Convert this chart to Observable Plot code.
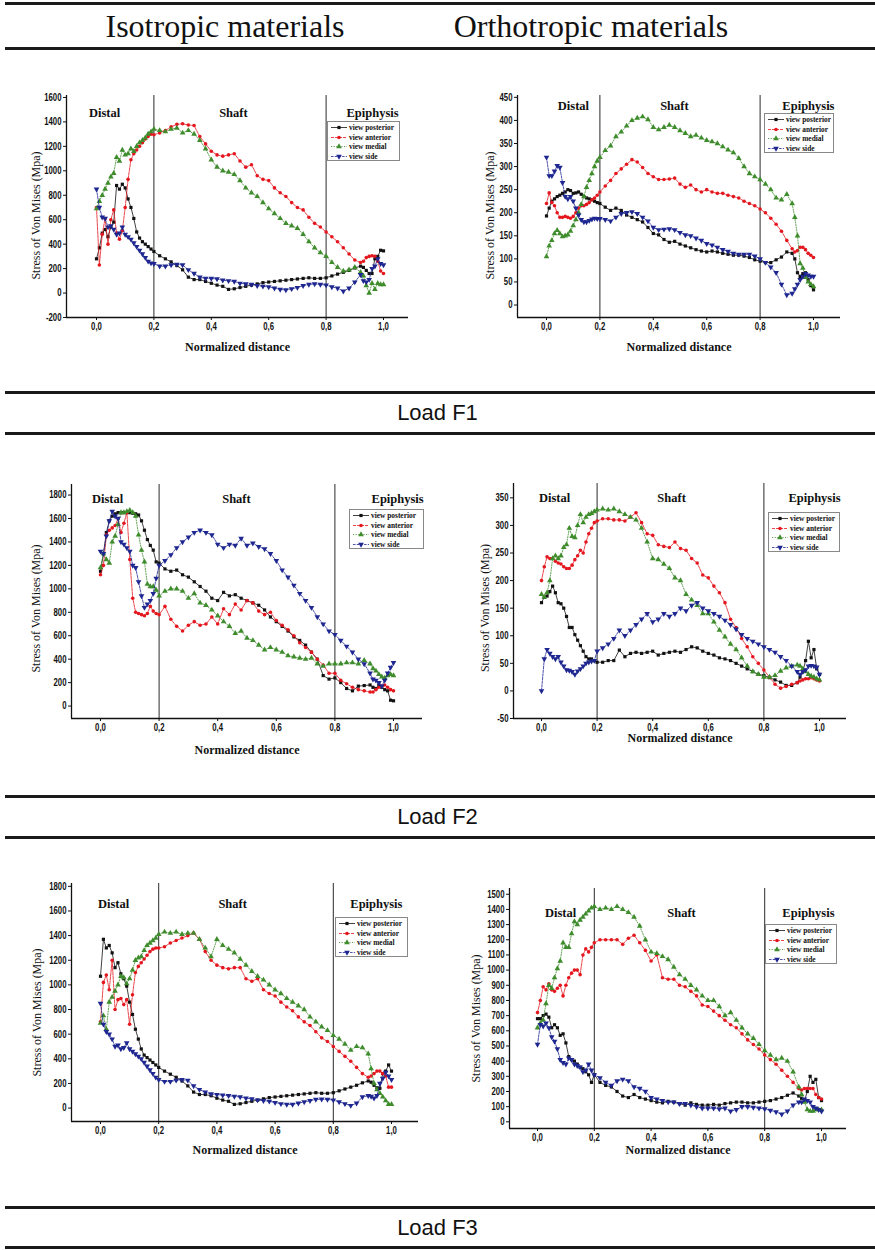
<!DOCTYPE html>
<html><head><meta charset="utf-8">
<script src="https://cdn.jsdelivr.net/npm/d3@7"></script>
<script src="https://cdn.jsdelivr.net/npm/@observablehq/plot@0.6"></script>
<style>
body{margin:0;background:#fff;}
#page{position:relative;width:875px;height:1250px;overflow:hidden;background:#fff;}
.hr{position:absolute;left:5px;width:870px;height:3px;background:#1a1a1a;}
.title{position:absolute;top:9px;width:320px;height:34px;line-height:34px;text-align:center;font-family:"Liberation Serif","Times New Roman",serif;font-size:32px;color:#111;}
.load{position:absolute;left:0;width:875px;height:24px;line-height:24px;text-align:center;font-family:"Liberation Sans",Arial,sans-serif;font-size:22px;color:#111;}
.panel{position:absolute;}
.legend{position:absolute;border:1px solid #888;box-sizing:border-box;background:#fff;padding:1px 0 0 2px;}
.legend .row{display:flex;align-items:center;height:9.5px;}
.legend span{font-family:"Liberation Serif","Times New Roman",serif;font-weight:bold;font-size:7.4px;white-space:nowrap;margin-left:1px;color:#111;}
</style>
</head><body>
<div id="page">
  <div class="hr" style="top:2px"></div>
  <div class="title" style="left:65px">Isotropic materials</div>
  <div class="title" style="left:431px">Orthotropic materials</div>
  <div class="hr" style="top:47px"></div>
  <div class="hr" style="top:391px"></div>
  <div class="load" style="top:401px">Load F1</div>
  <div class="hr" style="top:432px"></div>
  <div class="hr" style="top:795px"></div>
  <div class="load" style="top:805px">Load F2</div>
  <div class="hr" style="top:836px"></div>
  <div class="hr" style="top:1206px"></div>
  <div class="load" style="top:1216px">Load F3</div>
  <div class="hr" style="top:1246px"></div>
</div>
<script>
// ---------- data ----------
const X = [0,0.01,0.02,0.03,0.04,0.05,0.06,0.07,0.08,0.09,0.10,0.11,0.12,0.13,0.14,0.15,0.16,0.17,0.18,0.19,0.20,
  0.22,0.24,0.26,0.28,0.30,0.32,0.34,0.36,0.38,0.40,0.42,0.44,0.46,0.48,0.50,0.52,0.54,0.56,0.58,0.60,
  0.62,0.64,0.66,0.68,0.70,0.72,0.74,0.76,0.78,0.80,0.82,0.84,0.86,0.88,0.90,
  0.92,0.93,0.94,0.95,0.96,0.97,0.98,0.99,1.00];

const SERIES = ["view posterior","view anterior","view medial","view side"];
const X_TICKS = [0,0.2,0.4,0.6,0.8,1.0];
const REGION_NAMES = ["Distal","Shaft","Epiphysis"];
const REGION_BOUNDS = [0.2,0.8];
const Y_TICKS_F1_ISO = [-200,0,200,400,600,800,1000,1200,1400,1600];
const Y_TICKS_F1_ORTHO = [0,50,100,150,200,250,300,350,400,450];
const Y_TICKS_F2_ISO = [0,200,400,600,800,1000,1200,1400,1600,1800];
const Y_TICKS_F2_ORTHO = [-50,0,50,100,150,200,250,300,350];
const Y_TICKS_F3_ISO = [0,200,400,600,800,1000,1200,1400,1600,1800];
const Y_TICKS_F3_ORTHO = [0,100,200,300,400,500,600,700,800,900,1000,1100,1200,1300,1400,1500];

// Load F1 - isotropic
const F1_iso_posterior = [280,370,490,520,460,540,580,880,850,890,860,770,700,610,500,450,420,400,380,360,340,
  305,280,255,225,190,130,110,110,95,80,65,55,30,35,45,55,65,75,85,90,95,100,105,110,115,120,125,120,120,125,140,155,170,185,205,
  220,210,185,160,160,280,300,350,345];
const F1_iso_anterior = [700,230,480,610,400,600,680,490,440,510,700,930,1090,1140,1170,1200,1230,1260,1280,1300,1295,
  1310,1330,1360,1380,1385,1375,1370,1280,1220,1160,1130,1120,1130,1140,1080,1030,1050,960,930,920,860,820,790,740,700,680,620,570,540,500,460,420,370,320,270,
  250,260,290,300,305,300,260,180,160];
const F1_iso_medial = [690,750,800,850,900,950,980,1110,1080,1170,1130,1140,1180,1160,1200,1230,1250,1270,1300,1320,1340,
  1330,1320,1340,1350,1310,1330,1300,1250,1180,1090,1030,1000,990,970,920,860,820,790,740,690,650,610,570,550,530,480,420,370,330,300,250,210,180,190,210,
  170,140,60,0,80,30,80,70,70];
const F1_iso_side = [850,700,620,610,540,550,520,480,490,540,480,460,440,410,380,350,320,290,260,245,240,
  220,220,230,235,230,190,160,130,120,120,115,105,100,95,80,75,70,60,55,50,40,30,25,35,45,60,70,75,70,65,50,40,15,40,90,
  150,100,90,110,200,220,280,240,230];

// Load F1 - orthotropic
const F1_ortho_posterior = [193,210,225,230,235,238,242,245,250,248,242,243,245,240,235,232,230,228,225,222,220,
  212,205,210,205,195,190,185,180,168,155,152,142,136,138,132,128,124,120,117,115,117,115,112,110,108,108,106,103,98,95,92,92,98,104,115,
  112,100,70,62,68,70,55,42,33];
const F1_ortho_anterior = [220,243,222,215,200,190,190,192,190,188,192,200,210,215,215,218,222,228,232,238,245,
  258,270,285,295,305,315,310,298,285,278,272,272,273,275,262,255,260,250,245,250,245,242,242,238,235,232,225,220,215,208,200,188,175,160,140,
  122,115,118,125,125,120,112,108,103];
const F1_ortho_medial = [105,128,140,155,162,155,148,150,152,160,172,185,200,218,235,255,270,285,300,312,320,
  335,345,365,375,388,400,405,408,402,385,380,385,390,385,378,372,365,368,362,357,354,350,343,336,330,318,300,285,278,272,262,250,232,228,240,
  220,190,150,90,80,60,50,45,40];
const F1_ortho_side = [320,280,280,290,302,298,265,235,230,235,225,210,195,185,180,180,183,186,188,187,187,
  185,182,190,198,200,202,198,190,182,168,163,164,165,163,157,152,150,145,140,133,130,125,120,116,112,110,110,110,106,100,92,82,70,45,22,
  25,35,45,55,62,68,65,62,62];

// Load F2 - isotropic
const F2_iso_posterior = [1150,1300,1480,1580,1620,1640,1650,1650,1650,1650,1650,1645,1640,1630,1580,1500,1420,1370,1330,1230,1220,
  1170,1150,1160,1120,1100,1060,1020,980,920,900,970,940,950,920,900,880,860,820,760,720,680,640,590,560,520,460,400,260,230,240,200,150,130,170,175,
  180,160,150,180,160,140,130,50,45];
const F2_iso_anterior = [1120,1200,1460,1500,1520,1540,1600,1480,1560,1650,1250,920,800,790,780,770,790,850,810,790,780,
  850,740,680,640,690,720,690,700,760,700,830,780,870,820,900,880,810,780,800,730,690,650,600,540,500,460,400,350,280,280,220,190,160,140,130,
  120,120,140,160,170,180,160,140,130];
const F2_iso_medial = [1180,1300,1250,1220,1400,1450,1550,1650,1650,1660,1670,1650,1620,1460,1330,1230,1040,1020,1020,990,940,
  980,1000,1000,980,920,960,880,860,820,770,720,680,620,640,580,560,520,480,500,480,460,430,420,410,400,410,360,340,360,360,360,370,370,360,390,
  360,320,300,270,250,240,260,270,260];
const F2_iso_side = [1320,1300,1450,1580,1660,1620,1600,1400,1380,1350,1320,1200,1180,1060,940,840,870,900,960,1090,1200,
  1240,1290,1350,1400,1440,1480,1500,1480,1460,1380,1350,1380,1370,1430,1370,1390,1360,1340,1300,1240,1160,1100,1030,960,900,840,760,700,640,610,560,510,460,400,360,
  280,230,220,200,170,220,280,330,370];

// Load F2 - orthotropic
const F2_ortho_posterior = [160,170,172,180,190,178,160,158,150,135,115,115,102,92,82,72,62,58,58,55,52,
  52,55,55,74,62,68,70,68,70,72,65,68,70,72,70,75,80,78,72,68,65,60,58,55,50,45,40,35,30,28,24,20,16,10,10,
  15,25,35,55,90,60,75,40,30];
const F2_ortho_anterior = [200,225,243,240,240,235,232,230,225,222,222,228,238,245,255,250,270,285,295,305,308,
  312,312,310,310,308,315,323,305,285,282,265,262,260,270,258,255,240,232,210,205,190,178,160,130,115,95,80,62,50,38,25,12,5,8,12,
  15,18,20,22,22,24,22,20,18];
const F2_ortho_medial = [175,170,178,200,240,245,240,245,260,265,295,280,278,300,320,305,315,320,322,325,328,
  330,328,330,325,320,315,310,295,270,240,238,230,222,205,200,175,165,155,140,140,125,110,98,85,75,60,45,35,30,25,25,28,36,42,45,
  47,45,40,35,30,27,25,22,20];
const F2_ortho_side = [0,58,75,68,62,58,62,52,45,38,37,35,30,36,40,45,50,52,54,55,72,
  78,85,95,110,100,110,120,130,140,125,130,140,135,140,150,145,155,160,150,145,140,135,128,120,112,102,95,90,85,80,75,70,62,55,45,
  35,30,35,38,45,46,45,43,30];

// Load F3 - isotropic
const F3_iso_posterior = [1070,1370,1300,1320,1260,1140,1180,1090,1050,990,860,760,640,560,480,430,410,390,370,350,330,
  300,275,250,220,180,130,110,110,100,80,65,55,30,35,45,55,65,75,85,90,95,100,105,110,115,120,125,120,120,125,140,155,170,185,205,
  220,210,185,165,160,280,300,350,300];
const F3_iso_anterior = [700,1020,1080,960,1200,800,880,890,840,880,680,920,1100,1150,1180,1210,1240,1270,1290,1300,1300,
  1310,1340,1360,1380,1400,1420,1370,1270,1200,1160,1140,1130,1140,1140,1050,1030,1050,960,930,910,860,820,790,740,700,670,620,570,540,500,460,420,380,330,280,
  250,260,280,300,300,280,260,170,170];
const F3_iso_medial = [690,750,640,860,900,950,1000,1070,1060,1010,1050,1120,1200,1220,1230,1280,1320,1340,1360,1380,1410,
  1430,1420,1430,1410,1420,1420,1370,1300,1230,1370,1320,1290,1260,1210,1160,1110,1070,1040,1000,960,930,890,860,830,800,740,700,660,630,590,560,520,470,500,490,
  440,320,200,150,120,90,60,30,30];
const F3_iso_side = [850,680,620,600,560,500,510,480,490,530,480,460,440,420,400,370,340,310,280,250,230,
  215,215,225,230,225,180,150,130,115,110,105,100,95,90,80,75,65,60,55,45,35,30,30,40,50,60,70,72,70,65,50,35,20,40,90,
  100,95,80,100,200,240,290,260,230];

// Load F3 - orthotropic
const F3_ortho_posterior = [680,680,700,710,690,620,640,620,570,580,520,430,410,400,380,360,350,330,310,260,310,
  260,240,230,200,170,160,180,160,150,140,130,125,135,130,120,110,125,115,110,110,115,110,120,125,130,130,125,125,130,135,140,150,160,175,190,
  170,155,140,200,300,260,280,160,140];
const F3_ortho_anterior = [720,800,890,870,910,870,860,880,900,830,900,950,980,1000,1000,970,1100,1140,1120,1150,1180,
  1200,1200,1200,1200,1170,1210,1230,1180,1130,1060,1100,950,940,940,900,890,860,830,770,760,730,700,670,640,620,580,540,510,480,440,410,380,340,300,260,
  220,210,220,220,220,220,180,160,150];
const F3_ortho_medial = [620,650,670,780,900,880,950,1010,1060,1180,1150,1150,1240,1320,1300,1330,1350,1370,1390,1410,1420,
  1400,1410,1400,1420,1400,1380,1350,1290,1200,1120,1110,1090,1070,1020,970,940,900,870,830,800,800,760,700,720,670,620,580,550,510,470,440,410,420,400,330,
  230,180,130,80,70,70,80,80,80];
const F3_ortho_side = [510,640,630,650,620,560,530,480,410,390,380,420,410,380,370,360,330,340,380,340,310,
  290,260,240,270,280,270,230,220,200,160,150,140,130,130,120,120,110,100,90,90,90,85,90,70,80,100,100,95,90,85,75,65,50,70,110,
  130,130,150,140,130,100,90,80,70];

// ---------- styling ----------
const COLORS = ["#111111","#e4161e","#3e8c2c","#1e2690"];
const DASH = [null, "3,1", "1.2,1.4", "2.5,1.2"];
const SERIF = "'Liberation Serif','Times New Roman',serif";
const TICKFONT = "'Liberation Sans',Arial,sans-serif";
const triangleDown = {draw(ctx, size){ const y = Math.sqrt(size/(Math.sqrt(3)*3)); const s3 = Math.sqrt(3);
  ctx.moveTo(0, y*2); ctx.lineTo(-s3*y, -y); ctx.lineTo(s3*y, -y); ctx.closePath(); }};
const SYMBOLS = ["square","circle","triangle",triangleDown];
const D3SYM = [d3.symbolSquare, d3.symbolCircle, d3.symbolTriangle, triangleDown];
const RADII = [1.8, 1.8, 2.1, 2.1];

// ---------- layout (pixels) ----------
const PANELS = [
  {left:0, axisPx:66, x0px:96, x1px:383, rightPx:408, top:95, bottom:327, yDomain:[-200,1616], yTicks:Y_TICKS_F1_ISO,
   series:[F1_iso_posterior,F1_iso_anterior,F1_iso_medial,F1_iso_side], regionX:[0.028,0.477,0.962], regionDy:17,
   yLabDx:-30, yLabDy:9, xLabDy:30, legend:[327,121,73,40]},
  {left:437, axisPx:517, x0px:546, x1px:813, rightPx:840, top:95, bottom:327, yDomain:[-27,454], yTicks:Y_TICKS_F1_ORTHO,
   series:[F1_ortho_posterior,F1_ortho_anterior,F1_ortho_medial,F1_ortho_side], regionX:[0.101,0.479,0.981], regionDy:10,
   yLabDx:-27, yLabDy:9, xLabDy:30, legend:[764,113,70,40]},
  {left:0, axisPx:71, x0px:100, x1px:393, rightPx:422, top:484, bottom:728, yDomain:[-106,1890], yTicks:Y_TICKS_F2_ISO,
   series:[F2_iso_posterior,F2_iso_anterior,F2_iso_medial,F2_iso_side], regionX:[0.024,0.464,1.014], regionDy:14,
   yLabDx:-35, yLabDy:7, xLabDy:32, legend:[349,509,75,40]},
  {left:437, axisPx:513, x0px:541, x1px:819, rightPx:846, top:483, bottom:728, yDomain:[-50,376], yTicks:Y_TICKS_F2_ORTHO,
   series:[F2_ortho_posterior,F2_ortho_anterior,F2_ortho_medial,F2_ortho_side], regionX:[0.047,0.468,0.982], regionDy:14,
   yLabDx:-28, yLabDy:7, xLabDy:20, legend:[768,512,72,40]},
  {left:0, axisPx:71, x0px:100, x1px:391, rightPx:418, top:883, bottom:1131, yDomain:[-109,1823], yTicks:Y_TICKS_F3_ISO,
   series:[F3_iso_posterior,F3_iso_anterior,F3_iso_medial,F3_iso_side], regionX:[0.045,0.454,0.948], regionDy:20,
   yLabDx:-34, yLabDy:10, xLabDy:29, legend:[335,917,73,40]},
  {left:437, axisPx:509, x0px:537, x1px:821, rightPx:846, top:888, bottom:1138, yDomain:[-44,1538], yTicks:Y_TICKS_F3_ORTHO,
   series:[F3_ortho_posterior,F3_ortho_anterior,F3_ortho_medial,F3_ortho_side], regionX:[0.081,0.507,0.954], regionDy:24,
   yLabDx:-33, yLabDy:10, xLabDy:22, legend:[765,924,72,40]}
];

const page = document.getElementById("page");
const fmtX = d => d.toFixed(1).replace(".", ",");

function drawPanel(p){
  const W = p.left === 0 ? 437 : 438;
  const H = p.bottom - p.top + 50;
  const k = p.x1px - p.x0px;
  const xDom = [(p.axisPx - p.x0px)/k, (p.rightPx - p.x0px)/k];
  const marks = [Plot.ruleX(REGION_BOUNDS, {stroke:"#2a2a2a", strokeWidth:1})];
  p.series.forEach((vals, s) => {
    const rows = X.map((x, i) => ({x, y: vals[i]}));
    marks.push(Plot.line(rows, {x:"x", y:"y", stroke:COLORS[s], strokeWidth:0.8, strokeDasharray:DASH[s]}));
    marks.push(Plot.dot(rows, {x:"x", y:"y", fill:COLORS[s], stroke:"none", symbol:SYMBOLS[s], r:RADII[s]}));
  });
  marks.push(
    Plot.ruleX([xDom[0]], {stroke:"#111", strokeWidth:1.3}),
    Plot.ruleY([p.yDomain[0]], {stroke:"#111", strokeWidth:1.3}),
    Plot.axisX({ticks:X_TICKS, tickFormat:fmtX, tickSize:3, tickPadding:2, label:null}),
    Plot.axisY({ticks:p.yTicks, tickFormat:d => String(d), tickSize:3, tickPadding:2, label:null}),
    Plot.text(REGION_NAMES, {x:(d, i) => p.regionX[i], frameAnchor:"top", dy:p.regionDy, lineAnchor:"middle",
      text:d => d, fontFamily:SERIF, fontSize:12.5, fontWeight:"bold", fill:"#111"}),
    Plot.text(["Stress of Von Mises (Mpa)"], {frameAnchor:"left", rotate:-90, dx:p.yLabDx, dy:p.yLabDy,
      textAnchor:"middle", lineAnchor:"middle", text:d => d, fontFamily:SERIF, fontSize:12, fontWeight:"normal", fill:"#111"}),
    Plot.text(["Normalized distance"], {frameAnchor:"bottom", dy:p.xLabDy, lineAnchor:"middle",
      text:d => d, fontFamily:SERIF, fontSize:12, fontWeight:"bold", fill:"#111"})
  );
  const svg = Plot.plot({
    width:W, height:H,
    marginLeft:p.axisPx - p.left, marginRight:p.left + W - p.rightPx, marginTop:10, marginBottom:50,
    x:{domain:xDom}, y:{domain:p.yDomain},
    style:{fontFamily:TICKFONT, fontSize:"10.5px", fontWeight:"bold", color:"#111", background:"transparent", overflow:"visible"},
    marks
  });
  // condense the tick labels horizontally (narrow bold face of the original)
  svg.querySelectorAll('g[aria-label$="tick label"] text').forEach(t => {
    t.setAttribute("transform", (t.getAttribute("transform") || "") + " scale(0.74,1)");
  });
  const wrap = document.createElement("div");
  wrap.className = "panel";
  wrap.style.left = p.left + "px";
  wrap.style.top = (p.top - 10) + "px";
  wrap.appendChild(svg);
  page.appendChild(wrap);

  // legend
  const [lx, ly, lw, lh] = p.legend;
  const box = document.createElement("div");
  box.className = "legend";
  box.style.cssText += `left:${lx}px;top:${ly}px;width:${lw}px;height:${lh}px;`;
  SERIES.forEach((name, s) => {
    const row = document.createElement("div");
    row.className = "row";
    const sym = d3.symbol(D3SYM[s], Math.PI * RADII[s] * RADII[s])();
    row.innerHTML = `<svg width="18" height="9" style="overflow:visible;flex:none">
      <line x1="1" x2="17" y1="4.5" y2="4.5" stroke="${COLORS[s]}" stroke-width="0.8" ${DASH[s] ? `stroke-dasharray="${DASH[s]}"` : ""}/>
      <path d="${sym}" transform="translate(9,4.5)" fill="${COLORS[s]}"/></svg><span>${name}</span>`;
    box.appendChild(row);
  });
  page.appendChild(box);
}

PANELS.forEach(drawPanel);
</script>
</body></html>
